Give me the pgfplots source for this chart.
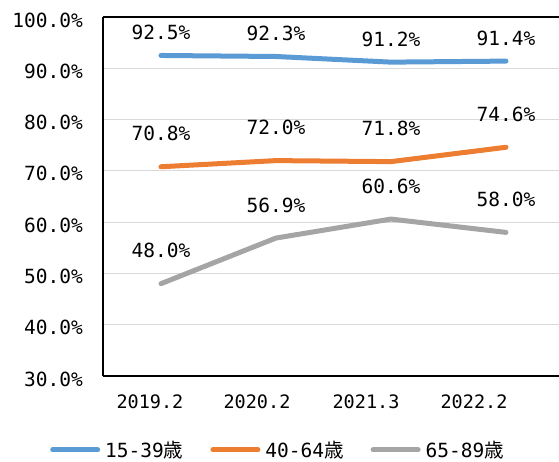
\documentclass[border=0pt]{standalone}
\usepackage{pgfplots}
\pgfplotsset{compat=1.18}
\usepackage{fontspec}
\setmainfont{DejaVu Sans Mono}
\newfontfamily\cjk{Noto Sans CJK JP}
\definecolor{cblue}{HTML}{5B9BD5}
\definecolor{corange}{HTML}{ED7D31}
\definecolor{cgray}{HTML}{A5A5A5}
\definecolor{cgrid}{HTML}{D9D9D9}
\begin{document}
\begin{tikzpicture}
\begin{axis}[
  at={(103pt,85pt)}, anchor=south west,
  scale only axis, width=456pt, height=359pt,
  xmin=-0.504, xmax=3.461, ymin=30, ymax=100,
  axis x line*=bottom, axis y line*=left,
  axis line style={black, line width=1.3pt},
  ytick={30,40,...,100},
  xtick={-0.096,0.835,1.783,2.722},
  xticklabels={2019.2,2020.2,2021.3,2022.2},
  major tick length=0pt,
  ymajorgrids, grid style={cgrid, line width=1pt},
  /pgf/number format/assume math mode=true,
  yticklabel={\pgfmathprintnumber[fixed,fixed zerofill,precision=1]{\tick}\%},
  yticklabel style={font=\fontsize{19.5}{20}\selectfont, anchor=east, inner sep=0pt, xshift=-20pt, yshift=-3pt},
  xticklabel style={font=\fontsize{18.5}{20}\selectfont, anchor=center, inner sep=0pt, yshift=-26pt},
  clip=false,
  nodes near coords={\pgfmathprintnumber[fixed,fixed zerofill,precision=1]{\pgfplotspointmeta}\%},
  every node near coord/.append style={font=\fontsize{19.5}{20}\selectfont, anchor=center, inner sep=0pt, text=black},
  legend columns=3,
  legend style={at={(0.3816,-0.206)}, anchor=center, draw=none, fill=none, inner sep=0pt,
    font=\fontsize{19.5}{20}\selectfont, nodes={inner sep=0pt},
    /tikz/every even column/.append style={column sep=27pt},
    /tikz/every odd column/.append style={column sep=5pt}},
  legend image code/.code={\draw[#1, line width=5pt, line cap=round] (2.5pt,0pt) -- (47.5pt,0pt);},
]
\addplot[cblue, line width=5pt, line cap=round, line join=round,
  every node near coord/.append style={yshift=23pt}]
  coordinates {(0,92.5) (1,92.3) (2,91.2) (3,91.4)};
\addlegendentry{15-39{\cjk 歳}}
\addplot[corange, line width=5pt, line cap=round, line join=round,
  every node near coord/.append style={yshift=33pt}]
  coordinates {(0,70.8) (1,72.0) (2,71.8) (3,74.6)};
\addlegendentry{40-64{\cjk 歳}}
\addplot[cgray, line width=5pt, line cap=round, line join=round,
  every node near coord/.append style={yshift=33pt}]
  coordinates {(0,48.0) (1,56.9) (2,60.6) (3,58.0)};
\addlegendentry{65-89{\cjk 歳}}
\draw[black, line width=1.3pt] (rel axis cs:0,1) -- (rel axis cs:1,1);
\end{axis}
\pgfresetboundingbox
\path[use as bounding box] (0,0) rectangle (559pt,461pt);
\end{tikzpicture}
\end{document}
